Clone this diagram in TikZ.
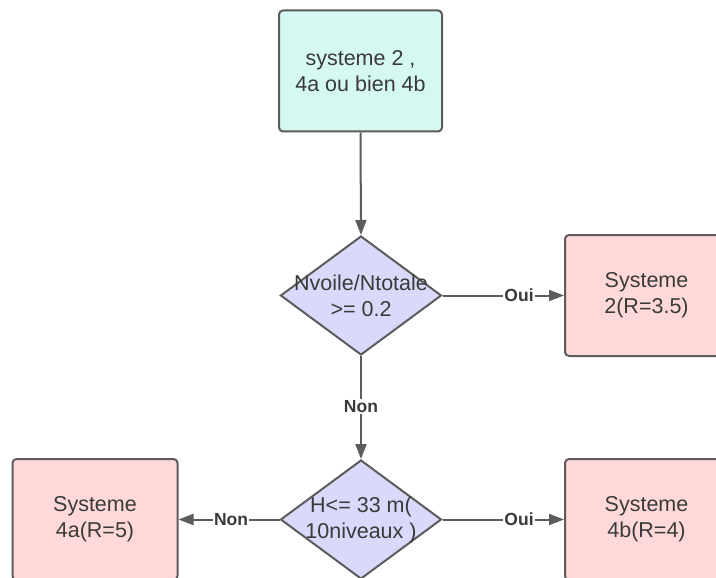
\documentclass[tikz,border=0pt]{standalone}
\usepackage{fontspec}
\setmainfont{Liberation Sans}
\usetikzlibrary{shapes.geometric,arrows.meta}
\definecolor{edgegray}{HTML}{5C5C5C}
\definecolor{txtgray}{HTML}{3A3A3A}
\definecolor{startfill}{HTML}{D6F8F2}
\definecolor{resfill}{HTML}{FFD9D9}
\definecolor{decfill}{HTML}{D9DAFB}
\tikzset{
  x=1pt, y=-1pt,
  box/.style={draw=edgegray, line width=2pt, rounded corners=4pt, inner sep=0pt,
    minimum width=163pt, minimum height=121pt, align=center, text=txtgray,
    font=\fontsize{21.5}{26}\selectfont},
  startbox/.style={box, fill=startfill},
  resbox/.style={box, fill=resfill},
  decision/.style={diamond, draw=edgegray, line width=2pt, fill=decfill, inner sep=0pt,
    minimum width=161pt, minimum height=119pt},
  dtext/.style={align=center, text=txtgray, font=\fontsize{21.5}{26}\selectfont},
  flow/.style={draw=edgegray, line width=2pt, -{Triangle[length=15pt,width=11pt]}},
  lbl/.style={fill=white, inner sep=1pt, text=txtgray, font=\fontsize{17.5}{20}\selectfont\bfseries}
}
\begin{document}
\begin{tikzpicture}
\useasboundingbox (0,0) rectangle (716,578);
\clip (0,0) rectangle (716,578);
\fill[white] (0,0) rectangle (716,578);

% blocks
\node[startbox] (start) at (360.5,71) {systeme 2 ,\\4a ou bien 4b};
\node[decision] (d1) at (361,295.5) {};
\node[dtext] (d1t) at (361,295.5) {Nvoile/Ntotale\\>= 0.2};
\node[resbox] (r2) at (646.5,295.5) {Systeme\\2(R=3.5)};
\node[decision] (d2) at (361,519.5) {};
\node[dtext] (d2t) at (361,519.5) {H<= 33 m(\\10niveaux )};
\node[resbox, minimum width=165pt] (r4a) at (95,519.5) {Systeme\\4a(R=5)};
\node[resbox] (r4b) at (646.5,519.5) {Systeme\\4b(R=4)};

% connectors
\draw[flow] (start.south) -- (d1.north);
\draw[flow] (d1.east) -- node[lbl, pos=0.63] (l1) {Oui} (r2.west);
\draw[flow] (d1.south) -- node[lbl, pos=0.49] (l2) {Non} (d2.north);
\draw[flow] (d2.west) -- node[lbl, pos=0.48] (l3) {Non} (r4a.east);
\draw[flow] (d2.east) -- node[lbl, pos=0.63] (l4) {Oui} (r4b.west);
\end{tikzpicture}
\end{document}
